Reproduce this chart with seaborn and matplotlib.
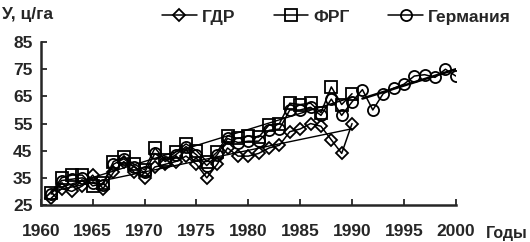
import numpy as np
import pandas as pd
import matplotlib
matplotlib.use("Agg")
import matplotlib.pyplot as plt
import seaborn as sns

# grain yield, centner per hectare
years_split = list(range(1961, 1991))
years_all = list(range(1961, 2001))

gdr = [27.5, 31, 30, 32, 36, 31, 37, 41, 37, 35,
       39, 40, 41, 43, 40, 35, 40, 46, 43, 43,
       44, 46, 47, 52, 53, 55, 54, 49, 44, 55]

frg = [29.5, 35, 36, 36, 32, 33, 41, 42.5, 40, 38,
       46, 41.5, 44.5, 47.5, 45, 41, 44.5, 50.5, 49.5, 50.5,
       50, 54.5, 55, 62.5, 62, 62.5, 59, 68.5, 62, 66]

germany = [29, 34, 34.5, 35, 33, 32.5, 40, 42, 39, 37,
           44, 41, 43.5, 46.5, 43.5, 39.5, 43.5, 49.5, 48, 48.5,
           48.5, 52.5, 53, 60, 60, 61, 58, 64, 58, 63,
           67.5, 60, 66, 68, 69.5, 72.5, 73, 72, 75, 72.5]

y_ticks = [25, 35, 45, 55, 65, 75, 85]
x_ticks = [1960, 1965, 1970, 1975, 1980, 1985, 1990, 1995, 2000]

sns.set_style("ticks")
plt.rcParams["font.family"] = ["Liberation Sans", "DejaVu Sans"]
plt.rcParams["font.weight"] = "bold"
fs = 12.5

fig = plt.figure(figsize=(5.30, 2.42), dpi=100)
ax = fig.add_axes([0.077, 0.153, 0.783, 0.673])

common = dict(color="black", lw=1.1, mfc="none", mec="black", mew=1.3)
sns.lineplot(x=years_split, y=gdr, marker="D", ms=6.5, ax=ax, label="ГДР", **common)
sns.lineplot(x=years_split, y=frg, marker="s", ms=8, ax=ax, label="ФРГ", **common)
sns.lineplot(x=years_all, y=germany, marker="o", ms=8, ax=ax, label="Германия", **common)

# linear trends
line_kws = dict(color="black", lw=1.0)
sns.regplot(x=years_split, y=gdr, scatter=False, ci=None, ax=ax, line_kws=line_kws, truncate=True)
sns.regplot(x=years_split, y=frg, scatter=False, ci=None, ax=ax, line_kws=line_kws, truncate=True)
sns.regplot(x=years_all[30:], y=germany[30:], scatter=False, ci=None, ax=ax,
            line_kws=dict(color="black", lw=1.8), truncate=True)

ax.set_xlim(1960, 2000)
ax.set_ylim(25, 85)
ax.set_xticks(x_ticks)
ax.set_yticks(y_ticks)
ax.tick_params(direction="in", length=4, width=1.3, labelsize=fs, pad=6)
ax.tick_params(axis="x", pad=14)
for lab in ax.get_xticklabels() + ax.get_yticklabels():
    lab.set_fontweight("bold")
sns.despine(ax=ax)
for sp in ("left", "bottom"):
    ax.spines[sp].set_linewidth(1.8)
ax.set_xlabel("")
ax.set_ylabel("")

fig.text(0.004, 0.94, "У, ц/га", fontsize=fs, fontweight="bold", va="center", ha="left")
fig.text(0.995, 0.035, "Годы", fontsize=11.5, fontweight="bold", va="center", ha="right")

handles, labels = ax.get_legend_handles_labels()
ax.legend_.remove()
fig.legend(handles[:3], labels[:3], loc="center", bbox_to_anchor=(0.635, 0.93), ncol=3,
           frameon=False, handlelength=2.0, handletextpad=0.3,
           columnspacing=2.2, prop=dict(weight="bold", size=fs))

fig.savefig("out.png", dpi=100)
